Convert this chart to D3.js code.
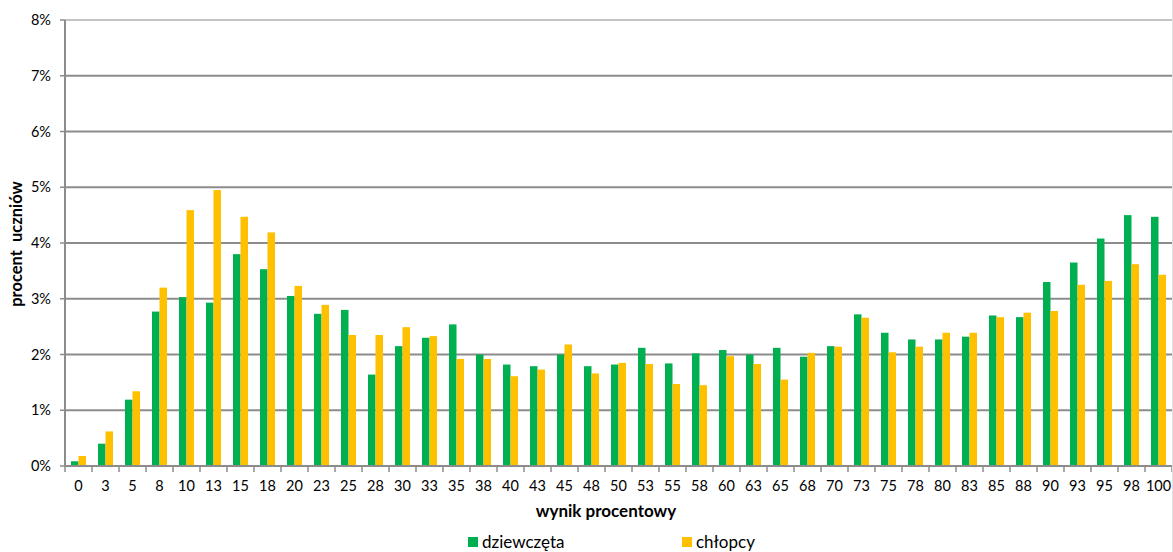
<!DOCTYPE html>
<html><head><meta charset="utf-8">
<script src="https://cdn.jsdelivr.net/npm/d3@7"></script>
<style>body{margin:0;background:#fff;} svg{display:block;font-family:Lato, "Open Sans", sans-serif;}</style>
</head><body><svg id="c" width="1173" height="552"></svg>
<script>
const categories = ["0","3","5","8","10","13","15","18","20","23","25","28","30","33","35","38","40","43","45","48","50","53","55","58","60","63","65","68","70","73","75","78","80","83","85","88","90","93","95","98","100"];
const girls = [0.085,0.40,1.19,2.77,3.03,2.93,3.80,3.53,3.05,2.73,2.80,1.64,2.15,2.30,2.54,2.00,1.82,1.79,2.00,1.79,1.82,2.12,1.84,2.02,2.08,2.00,2.12,1.96,2.15,2.72,2.39,2.27,2.27,2.32,2.70,2.67,3.30,3.65,4.08,4.50,4.47];
const boys = [0.18,0.62,1.34,3.20,4.59,4.95,4.47,4.19,3.23,2.89,2.35,2.35,2.49,2.33,1.92,1.92,1.61,1.73,2.18,1.66,1.85,1.83,1.47,1.45,1.97,1.83,1.55,2.03,2.14,2.66,2.04,2.14,2.39,2.39,2.67,2.75,2.78,3.25,3.32,3.62,3.43];
const seriesNames = ["dziewczęta","chłopcy"];
const colors = ["#00b050","#ffc000"];
const yTicks = [0,1,2,3,4,5,6,7,8];

const svg = d3.select("#c");
const L=65, R=1172, T=20, B=466;
const x = d3.scaleBand().domain(categories).range([L,R]);
const xs = d3.scaleBand().domain([0,1]).range([6, x.bandwidth()-6]).padding(0);
const y = d3.scaleLinear().domain([0,8]).range([B,T]);

// gridlines
svg.append("g").selectAll("line").data(yTicks.filter(d=>d>0)).join("line")
  .attr("x1",L).attr("x2",R).attr("y1",d=>y(d)).attr("y2",d=>y(d))
  .attr("stroke",d=>d===8?"#c4c4c4":"#8c8c8c").attr("stroke-width",2);

// bars
const data = categories.map((c,i)=>({c, v:[girls[i],boys[i]]}));
const g = svg.append("g").selectAll("g").data(data).join("g")
  .attr("transform",d=>`translate(${x(d.c)},0)`);
g.selectAll("rect").data(d=>d.v.map((v,k)=>({v,k}))).join("rect")
  .attr("x",d=>xs(d.k)).attr("width",xs.bandwidth())
  .attr("y",d=>y(d.v)).attr("height",d=>y(0)-y(d.v))
  .attr("fill",d=>colors[d.k]);

// x axis
const xAxis = svg.append("g").attr("transform",`translate(0,${B})`);
xAxis.append("line").attr("x1",L).attr("x2",R).attr("stroke","#8c8c8c").attr("stroke-width",2);
const bounds = categories.map(c=>x(c)).concat([R]);
xAxis.selectAll("line.t").data(bounds).join("line").attr("class","t")
  .attr("x1",d=>d).attr("x2",d=>d).attr("y1",0).attr("y2",6).attr("stroke","#8c8c8c").attr("stroke-width",1.5);
xAxis.selectAll("text").data(categories).join("text")
  .attr("x",d=>x(d)+x.bandwidth()/2).attr("y",25).attr("text-anchor","middle")
  .attr("font-size",14.5).attr("fill","#000").text(d=>d);

// y axis
const yAxis = svg.append("g");
yAxis.append("line").attr("x1",L).attr("x2",L).attr("y1",T).attr("y2",B+1).attr("stroke","#8c8c8c").attr("stroke-width",2);
yAxis.selectAll("line.t").data(yTicks).join("line").attr("class","t")
  .attr("x1",L-5).attr("x2",L).attr("y1",d=>y(d)).attr("y2",d=>y(d)).attr("stroke","#8c8c8c").attr("stroke-width",1.5);
yAxis.selectAll("text").data(yTicks).join("text")
  .attr("x",51).attr("y",d=>y(d)+5).attr("text-anchor","end")
  .attr("font-size",14.5).attr("fill","#000").text(d=>d+"%");

// right border
svg.append("line").attr("x1",R+0.5).attr("x2",R+0.5).attr("y1",0).attr("y2",552).attr("stroke","#e0e0e0");

// titles
svg.append("text").attr("x",606).attr("y",517).attr("text-anchor","middle")
  .attr("font-size",17).attr("font-weight","bold").text("wynik procentowy");
svg.append("text").attr("transform","translate(22,244) rotate(-90)").attr("text-anchor","middle")
  .attr("font-size",16.5).attr("font-weight","bold").attr("xml:space","preserve").style("white-space","pre").text("procent  uczniów");

// legend
const legX = [468, 682];
const lg = svg.append("g").selectAll("g").data(seriesNames).join("g")
  .attr("transform",(d,i)=>`translate(${legX[i]},537)`);
lg.append("rect").attr("width",10).attr("height",10).attr("fill",(d,i)=>colors[i]);
lg.append("text").attr("x",14).attr("y",11).attr("font-size",17).text(d=>d);
</script></body></html>
